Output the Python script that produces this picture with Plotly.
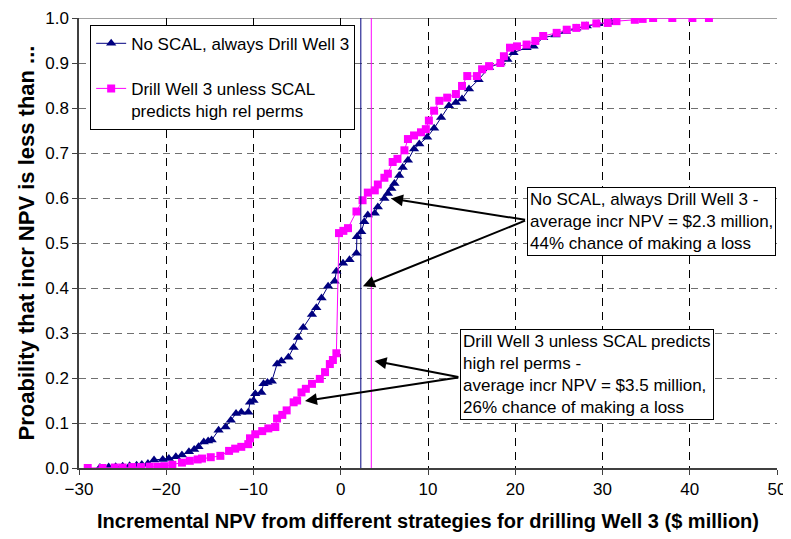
import plotly.graph_objects as go

# ---- data ----
no_scal_x = [-27.6, -26.6, -25.8, -25.0, -24.2, -23.4, -22.8, -22.1, -21.4, -20.4, -19.7, -18.9, -18.2,
             -17.4, -16.8, -16.3, -15.7, -15.2, -14.8, -14.0, -13.2, -12.6, -12.0, -11.4, -10.6, -10.4,
             -10.0, -9.8, -9.1, -8.85, -8.4, -7.9, -7.3, -6.8, -6.0, -5.4, -4.9, -4.3, -3.3, -2.8, -2.2,
             -1.45, -0.7, -0.5, 0.26, 1.0, 1.8, 1.85, 2.35, 2.7, 3.1, 3.9, 4.25, 5.0, 5.4, 5.8, 6.15, 6.7,
             7.1, 7.7, 8.4, 9.0, 9.9, 10.7, 11.5, 12.4, 13.2, 13.9, 14.7, 15.8, 17.0, 18.3, 19.1, 19.8,
             21.3, 22.1, 23.2, 24.6, 25.8, 27.0, 28.2, 29.5, 31.0]
no_scal_p = [0.001, 0.002, 0.003, 0.004, 0.005, 0.006, 0.008, 0.010, 0.018, 0.019, 0.021, 0.025, 0.029,
             0.036, 0.041, 0.047, 0.058, 0.060, 0.062, 0.084, 0.091, 0.106, 0.121, 0.124, 0.124, 0.146,
             0.150, 0.165, 0.168, 0.187, 0.190, 0.193, 0.231, 0.238, 0.246, 0.268, 0.290, 0.312, 0.341,
             0.356, 0.378, 0.404, 0.415, 0.437, 0.455, 0.463, 0.477, 0.514, 0.525, 0.547, 0.562, 0.566,
             0.580, 0.599, 0.610, 0.621, 0.632, 0.650, 0.668, 0.684, 0.709, 0.720, 0.735, 0.755, 0.779,
             0.805, 0.812, 0.820, 0.842, 0.863, 0.890, 0.900, 0.908, 0.923, 0.934, 0.937, 0.956, 0.962,
             0.970, 0.977, 0.982, 0.987, 0.990]

scal_x = [-29.0, -27.3, -25.9, -25.0, -23.9, -22.9, -21.9, -21.0, -20.2, -19.3, -18.2, -17.3, -16.4,
          -15.9, -14.9, -13.8, -12.8, -12.1, -11.4, -10.6, -10.4, -9.8, -9.0, -8.3, -7.5, -7.3, -6.7,
          -6.2, -5.4, -5.0, -4.5, -4.0, -3.3, -2.4, -1.8, -1.25, -0.9, -0.5, -0.2, 0.3, 0.83, 1.8, 2.5,
          3.1, 3.9, 4.25, 5.0, 5.4, 5.95, 6.5, 7.3, 7.7, 8.4, 9.2, 9.75, 10.1, 10.7, 11.3, 12.2, 13.2,
          13.9, 14.5, 15.6, 16.2, 17.0, 18.3, 18.7, 19.4, 20.2, 21.3, 22.3, 23.2, 24.75, 25.9, 27.0,
          28.0, 29.3, 30.6, 31.6, 33.7, 34.6, 35.8, 38.0, 40.3, 42.2]
scal_p = [0.000, 0.000, 0.001, 0.001, 0.002, 0.002, 0.003, 0.003, 0.004, 0.007, 0.012, 0.016, 0.019,
          0.021, 0.024, 0.027, 0.038, 0.043, 0.047, 0.053, 0.066, 0.075, 0.082, 0.088, 0.091, 0.110,
          0.118, 0.128, 0.146, 0.150, 0.168, 0.176, 0.187, 0.198, 0.213, 0.231, 0.240, 0.255, 0.522,
          0.527, 0.533, 0.570, 0.595, 0.612, 0.617, 0.630, 0.645, 0.654, 0.680, 0.687, 0.706, 0.731,
          0.739, 0.746, 0.753, 0.772, 0.794, 0.816, 0.823, 0.831, 0.849, 0.871, 0.871, 0.886, 0.893,
          0.900, 0.915, 0.934, 0.937, 0.941, 0.949, 0.960, 0.967, 0.974, 0.978, 0.983, 0.988, 0.989,
          0.993, 0.996, 0.998, 1.000, 1.000, 1.000, 1.000]

series_names = ["No SCAL, always Drill Well 3", "Drill Well 3 unless SCAL<br>predicts high rel perms"]
mean_npv = [2.3, 3.5]  # average incremental NPV for each strategy ($ million)
x_ticks = [-30, -20, -10, 0, 10, 20, 30, 40, 50]
y_ticks = [0.0, 0.1, 0.2, 0.3, 0.4, 0.5, 0.6, 0.7, 0.8, 0.9, 1.0]

FONT = "Arial, 'Liberation Sans', sans-serif"
NAVY = "#000080"
MAGENTA = "#FF00FF"

fig = go.Figure()
fig.add_trace(go.Scatter(x=no_scal_x, y=no_scal_p, mode="lines+markers", name=series_names[0],
                         legendgroup="a",
                         line=dict(color=NAVY, width=1),
                         marker=dict(symbol="triangle-up", size=9, color=NAVY)))
fig.add_trace(go.Scatter(x=scal_x, y=scal_p, mode="lines+markers", name=series_names[1],
                         legendgroup="b",
                         line=dict(color=MAGENTA, width=1),
                         marker=dict(symbol="square", size=8, color=MAGENTA)))

# vertical mean lines
for m, c in zip(mean_npv, [NAVY, MAGENTA]):
    fig.add_shape(type="line", xref="x", yref="y", x0=m, x1=m, y0=0, y1=1,
                  line=dict(color=c, width=1), layer="above")

# top border line at 1.0
fig.add_shape(type="line", xref="paper", yref="y", x0=0, x1=1, y0=1, y1=1,
              line=dict(color="#808080", width=1.5), layer="below")

# annotation boxes
fig.add_annotation(x=21.3, y=0.625, xref="x", yref="y", xanchor="left", yanchor="top",
                   text="No SCAL, always Drill Well 3 -<br>average incr NPV = $2.3 million,<br>44% chance of making a loss",
                   align="left", showarrow=False, bgcolor="white", bordercolor="black", borderwidth=1,
                   borderpad=2, font=dict(family=FONT, size=17, color="black"))
fig.add_annotation(x=13.65, y=0.31, xref="x", yref="y", xanchor="left", yanchor="top",
                   text="Drill Well 3 unless SCAL predicts<br>high rel perms -<br>average incr NPV = $3.5 million,<br>26% chance of making a loss",
                   align="left", showarrow=False, bgcolor="white", bordercolor="black", borderwidth=1,
                   borderpad=2, font=dict(family=FONT, size=17, color="black"))

# arrows
arrows = [((21.3, 0.551), (5.76, 0.599)), ((21.3, 0.551), (2.54, 0.404)),
          ((13.65, 0.2015), (3.87, 0.238)), ((13.65, 0.2015), (-4.1, 0.149))]
for (tx, ty), (hx, hy) in arrows:
    fig.add_annotation(x=hx, y=hy, ax=tx, ay=ty, xref="x", yref="y", axref="x", ayref="y",
                       text="", showarrow=True, arrowhead=2, arrowsize=1.2, arrowwidth=2,
                       arrowcolor="black", standoff=0)

fig.update_layout(
    width=783, height=531,
    margin=dict(l=71, r=14, t=10, b=71),
    paper_bgcolor="white", plot_bgcolor="white",
    font=dict(family=FONT, size=17, color="black"),
    showlegend=True,
    legend=dict(x=0.016, y=0.985, xanchor="left", yanchor="top", bgcolor="white",
                bordercolor="black", borderwidth=1, font=dict(family=FONT, size=17),
                traceorder="grouped", tracegroupgap=20, valign="top"),
    xaxis=dict(range=[-30, 50], tickvals=x_ticks, showgrid=True, gridcolor="black",
               griddash="8px,6px", gridwidth=1, zeroline=False, automargin=False,
               ticklabeloverflow="allow",
               showline=True, linecolor="#404040", linewidth=1.5, ticks="outside", ticklen=5,
               tickcolor="#404040", tickfont=dict(size=17),
               title=dict(text="<b>Incremental NPV from different strategies for drilling Well 3 ($ million)</b>",
                          font=dict(size=20), standoff=16)),
    yaxis=dict(range=[0, 1.0], tickvals=y_ticks, tickformat=".1f", showgrid=True, gridcolor="#707070",
               griddash="7px,5px", gridwidth=1, zeroline=False, automargin=False,
               ticklabeloverflow="allow",
               showline=True, linecolor="#404040", linewidth=1.5, ticks="outside", ticklen=5,
               tickcolor="#404040", tickfont=dict(size=17),
               title=dict(text="<b>Proability that incr NPV is less than ...</b>",
                          font=dict(size=22), standoff=5)),
)

fig.write_html("out.html")
